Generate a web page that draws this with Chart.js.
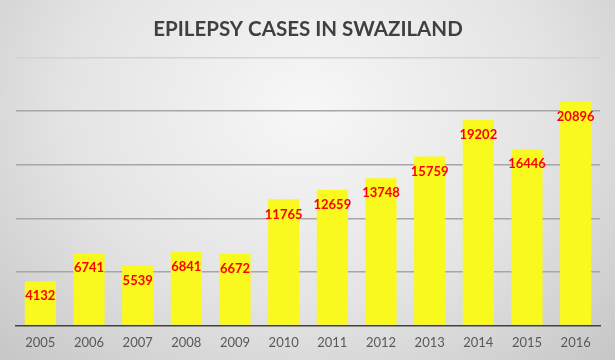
<!DOCTYPE html>
<html>
<head>
<meta charset="utf-8">
<script src="https://cdn.jsdelivr.net/npm/chart.js@4/dist/chart.umd.min.js"></script>
<style>
  html, body { margin: 0; padding: 0; }
  #wrap {
    width: 615px; height: 360px; position: relative;
    background: radial-gradient(ellipse at 50% 30%, #f7f7f7 0%, #e4e4e4 55%, #c6c6c6 100%);
  }
</style>
</head>
<body>
<div id="wrap"><canvas id="chart"></canvas></div>
<script>
// 데이터
const years = ['2005', '2006', '2007', '2008', '2009', '2010', '2011', '2012', '2013', '2014', '2015', '2016'];
const cases = [4132, 6741, 5539, 6841, 6672, 11765, 12659, 13748, 15759, 19202, 16446, 20896];
const yTicks = [0, 5000, 10000, 15000, 20000, 25000];

const font = 'Lato, "Open Sans", sans-serif';

// 막대 위쪽 안에 빨간 숫자 표시
const barLabels = {
    id: 'barLabels',
    afterDatasetsDraw(chart) {
        const ctx = chart.ctx;
        const meta = chart.getDatasetMeta(0);
        ctx.save();
        ctx.font = 'bold 13px ' + font;
        ctx.fillStyle = '#FF0000';
        ctx.textAlign = 'center';
        ctx.textBaseline = 'middle';
        meta.data.forEach((bar, i) => {
            ctx.fillText(String(cases[i]), bar.x, bar.y + 15);
        });
        ctx.restore();
    }
};

const ctx = document.getElementById('chart').getContext('2d');
new Chart(ctx, {
    type: 'bar',
    data: {
        labels: years,
        datasets: [{
            data: cases,
            backgroundColor: '#F9F91F',
            categoryPercentage: 1,
            barPercentage: 0.64
        }]
    },
    options: {
        responsive: true,
        maintainAspectRatio: false,
        animation: false,
        layout: { padding: { left: 16, right: 15, top: 0, bottom: 7 } },
        plugins: {
            legend: { display: false },
            tooltip: { enabled: false },
            title: {
                display: true,
                text: 'EPILEPSY CASES IN SWAZILAND',
                color: '#404040',
                font: { family: font, size: 20.5, weight: 'bold' },
                padding: { top: 17, bottom: 16 }
            }
        },
        scales: {
            x: {
                grid: { display: false },
                border: { color: '#404040', width: 1.5 },
                ticks: { color: '#595959', font: { family: font, size: 13 }, padding: 2 }
            },
            y: {
                min: 0,
                max: 25000,
                afterFit: s => { s.width = 0; },
                afterBuildTicks: s => { s.ticks = yTicks.map(v => ({ value: v })); },
                ticks: { display: false },
                border: { display: false },
                grid: {
                    drawTicks: false,
                    lineWidth: 1.5,
                    color: c => c.tick.value === 25000 ? '#d2d2d2' : (c.tick.value === 0 ? 'rgba(0,0,0,0)' : '#a6a6a6')
                }
            }
        }
    },
    plugins: [barLabels]
});
</script>
</body>
</html>
